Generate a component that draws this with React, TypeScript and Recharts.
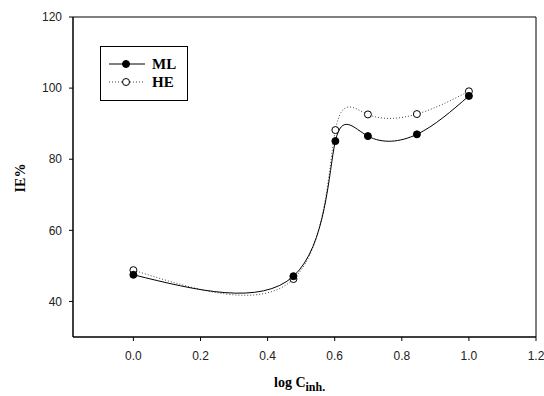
import {
  LineChart,
  Line,
  XAxis,
  YAxis,
  ReferenceArea,
} from "recharts";

const logConc = [0, 0.477, 0.602, 0.699, 0.845, 1.0];
const mlValues = [47.5, 47.1, 85.1, 86.5, 87.0, 97.8];
const heValues = [48.8, 46.3, 88.2, 92.6, 92.7, 99.1];
const xTicks = [0, 0.2, 0.4, 0.6, 0.8, 1.0, 1.2];
const yTicks = [40, 60, 80, 100, 120];

const data = logConc.map((x, i) => ({ x, ml: mlValues[i], he: heValues[i] }));

const tickStyle = { fill: "#222", fontSize: 12, fontFamily: "'Liberation Sans', Arial, sans-serif" };
const serif = "'Liberation Serif', 'Times New Roman', serif";

const XLabel = () => (
  <text x={274} y={387} fontFamily={serif} fontWeight="bold" fontSize={14} fill="#000">
    log C
    <tspan fontSize={12} dy={4}>inh.</tspan>
  </text>
);

const YLabel = () => (
  <text
    x={20}
    y={178}
    transform="rotate(-90 20 178)"
    textAnchor="middle"
    dominantBaseline="central"
    fontFamily={serif}
    fontWeight="bold"
    fontSize={14}
    fill="#000"
  >
    IE%
  </text>
);

function LegendBox() {
  return (
    <svg
      width={88}
      height={55}
      style={{ position: "absolute", left: 100, top: 46, overflow: "visible" }}
    >
      <rect x={0.5} y={0.5} width={87} height={54} fill="#fff" stroke="#000" />
      <line x1={9} x2={45} y1={18} y2={18} stroke="#000" strokeWidth={1} />
      <circle cx={26} cy={18} r={3.5} fill="#000" stroke="#000" />
      <text x={52} y={23} fontFamily={serif} fontWeight="bold" fontSize={15} fill="#000">
        ML
      </text>
      <line x1={9} x2={45} y1={36} y2={36} stroke="#444" strokeDasharray="1 2" />
      <circle cx={26} cy={36} r={3.5} fill="#fff" stroke="#000" />
      <text x={52} y={41} fontFamily={serif} fontWeight="bold" fontSize={15} fill="#000">
        HE
      </text>
    </svg>
  );
}

export default function App() {
  return (
    <div style={{ position: "absolute", left: 0, top: 0, width: 544, height: 396, background: "#fff" }}>
      <LineChart width={544} height={396} data={data} margin={{ top: 17, right: 8, left: 0, bottom: 0 }}>
        <ReferenceArea x1={-0.18} x2={1.2} y1={30} y2={120} fill="none" stroke="#000" strokeWidth={1} />
        <XAxis
          type="number"
          dataKey="x"
          domain={[-0.18, 1.2]}
          ticks={xTicks}
          allowDataOverflow
          height={59}
          stroke="#000"
          tickSize={4}
          tickMargin={10}
          tick={tickStyle}
          tickFormatter={(v: number) => v.toFixed(1)}
          label={<XLabel />}
        />
        <YAxis
          type="number"
          domain={[30, 120]}
          ticks={yTicks}
          allowDataOverflow
          width={73}
          stroke="#000"
          tickSize={4}
          tickMargin={7}
          tick={tickStyle}
          label={<YLabel />}
        />
        <Line
          type="natural"
          dataKey="he"
          stroke="#444"
          strokeWidth={1}
          strokeDasharray="1 2"
          dot={{ r: 3.5, fill: "#fff", stroke: "#000", strokeWidth: 1, strokeDasharray: "" }}
          activeDot={false}
          isAnimationActive={false}
        />
        <Line
          type="natural"
          dataKey="ml"
          stroke="#000"
          strokeWidth={1}
          dot={{ r: 3.5, fill: "#000", stroke: "#000", strokeWidth: 1 }}
          activeDot={false}
          isAnimationActive={false}
        />
      </LineChart>
      <LegendBox />
    </div>
  );
}
